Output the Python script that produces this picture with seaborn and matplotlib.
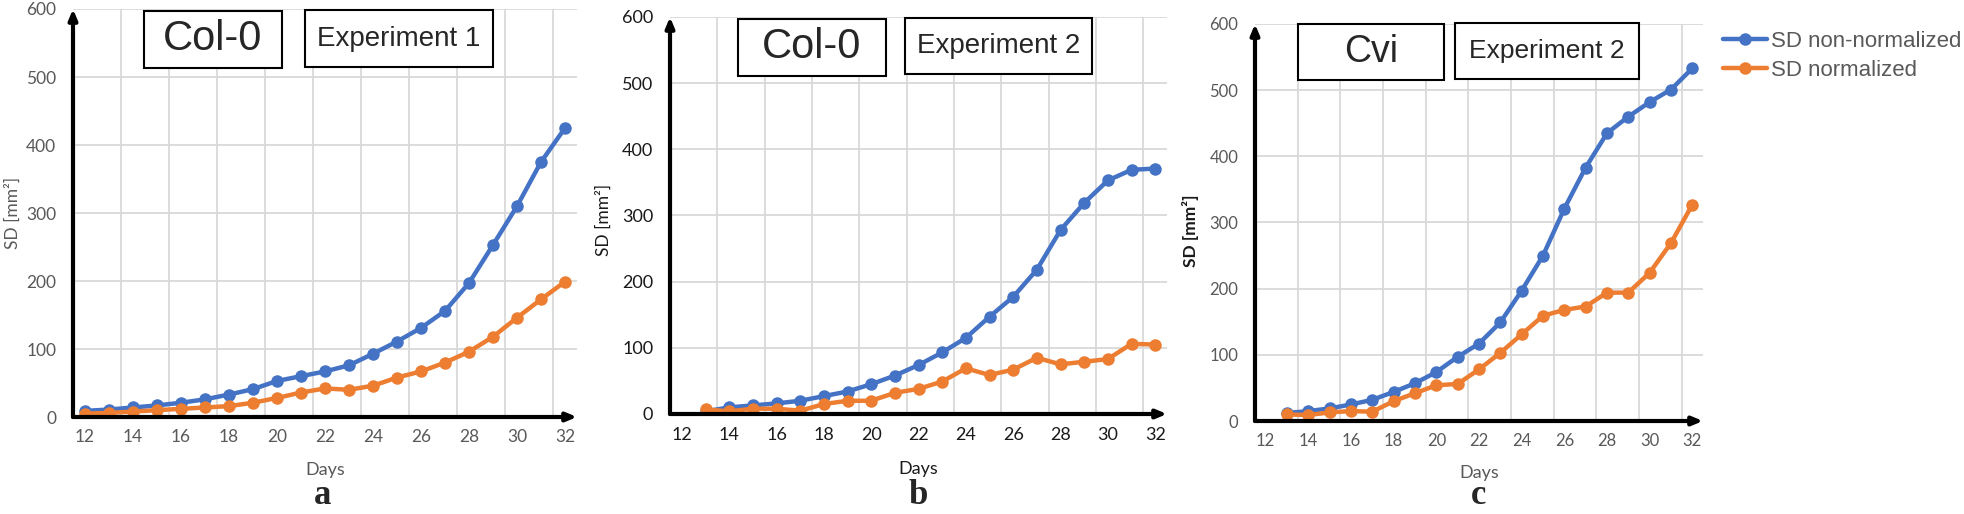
import matplotlib
matplotlib.use("Agg")
import matplotlib.pyplot as plt
from matplotlib.patches import Rectangle
import seaborn as sns
import pandas as pd

# values (SD in mm^2 per day)
days_a = [12, 13, 14, 15, 16, 17, 18, 19, 20, 21, 22, 23, 24, 25, 26, 27, 28, 29, 30, 31, 32]
raw_a = [9, 11, 14, 17, 21, 26, 33, 41, 53, 60, 67, 76, 93, 111, 131, 156, 197, 253, 310, 375, 425]
norm_a = [5, 6, 8, 10, 12, 14, 16, 21, 28, 36, 42, 40, 46, 58, 67, 80, 96, 118, 146, 173, 199]

days_b = [13, 14, 15, 16, 17, 18, 19, 20, 21, 22, 23, 24, 25, 26, 27, 28, 29, 30, 31, 32]
raw_b = [4, 10, 13, 16, 20, 27, 34, 45, 58, 74, 93, 115, 147, 177, 218, 278, 319, 353, 369, 371]
norm_b = [7, 4, 8, 8, 5, 15, 20, 20, 32, 38, 49, 69, 59, 67, 85, 75, 79, 83, 106, 105]

days_c = [13, 14, 15, 16, 17, 18, 19, 20, 21, 22, 23, 24, 25, 26, 27, 28, 29, 30, 31, 32]
raw_c = [12, 15, 19, 25, 32, 44, 57, 74, 97, 117, 149, 197, 250, 321, 383, 435, 460, 482, 501, 533]
norm_c = [10, 9, 13, 15, 14, 30, 42, 54, 56, 78, 103, 131, 159, 168, 173, 194, 194, 224, 269, 327]

series_names = ["SD non-normalized", "SD normalized"]
xticks = [12, 14, 16, 18, 20, 22, 24, 26, 28, 30, 32]
yticks = [0, 100, 200, 300, 400, 500, 600]
strains = ["Col-0", "Col-0", "Cvi"]
experiments = ["Experiment 1", "Experiment 2", "Experiment 2"]
letters = ["a", "b", "c"]

sns.set_style("white")
plt.rcParams["font.family"] = ["Lato", "DejaVu Sans"]

W, H = 1964, 514
fig = plt.figure(figsize=(W / 100, H / 100), dpi=100)
palette = {"SD non-normalized": "#4472C4", "SD normalized": "#ED7D31"}


def px_axes(left, right, y0, y600):
    return fig.add_axes([left / W, 1 - y0 / H, (right - left) / W, (y0 - y600) / H])


def px_box(x1, x2, y1, y2, text, size):
    fig.add_artist(Rectangle((x1 / W, 1 - y2 / H), (x2 - x1) / W, (y2 - y1) / H,
                             transform=fig.transFigure, facecolor="white",
                             edgecolor="black", linewidth=1.5, zorder=5))
    fig.text((x1 + x2) / 2 / W, 1 - (y1 + y2) / 2 / H, text, ha="center", va="center",
             fontsize=size, family="Liberation Sans", zorder=6)


panels = [
    dict(days=days_a, raw=raw_a, norm=norm_a, box=(73, 577, 417, 9),
         tick_col="#595959", tick_size=12.5, lab_col="#595959", lab_w="normal",
         ylab=(-0.119, 0.5), xlab=-0.13,
         boxes=[(144, 282, 11, 68, 30), (305, 493, 10, 67, 20)], letter=(323, 496)),
    dict(days=days_b, raw=raw_b, norm=norm_b, box=(670, 1167, 414, 17),
         tick_col="#1a1a1a", tick_size=13, lab_col="#1a1a1a", lab_w="normal",
         ylab=(-0.133, 0.49), xlab=-0.138,
         boxes=[(738, 886, 19, 76, 30), (905, 1092, 18, 74, 20)], letter=(918, 496)),
    dict(days=days_c, raw=raw_c, norm=norm_c, box=(1255, 1703, 421, 24),
         tick_col="#595959", tick_size=12, lab_col="#1a1a1a", lab_w="bold",
         ylab=(-0.145, 0.48), xlab=-0.131,
         boxes=[(1298, 1444, 24, 80, 27), (1455, 1639, 23, 79, 19)], letter=(1479, 496)),
]

axes = []
for i, p in enumerate(panels):
    ax = px_axes(*p["box"])
    axes.append(ax)
    df = pd.DataFrame({
        "Days": p["days"] * 2,
        "SD": p["raw"] + p["norm"],
        "series": [series_names[0]] * len(p["days"]) + [series_names[1]] * len(p["days"]),
    })
    sns.lineplot(data=df, x="Days", y="SD", hue="series", hue_order=series_names,
                 palette=palette, marker="o", markersize=9, markeredgewidth=0,
                 linewidth=3.2, legend=(i == 2), ax=ax, zorder=3)
    ax.set_xlim(11.5, 32.5)
    ax.set_ylim(0, 600)
    ax.set_xticks(xticks)
    ax.set_yticks(yticks)
    for gx in [13.5, 15.5, 17.5, 19.5, 21.5, 23.5, 25.5, 27.5, 29.5, 31.5]:
        ax.axvline(gx, color="#d9d9d9", lw=1.3, zorder=0)
    for gy in yticks[1:]:
        ax.axhline(gy, color="#d9d9d9", lw=1.3, zorder=0)
    for s in ax.spines.values():
        s.set_visible(False)
    ax.annotate("", xy=(0, 1.0), xytext=(0, 0), xycoords="axes fraction",
                arrowprops=dict(arrowstyle="-|>,head_length=0.6,head_width=0.25",
                                color="black", lw=3, shrinkA=0, shrinkB=0), zorder=4)
    ax.annotate("", xy=(1.0, 0), xytext=(0, 0), xycoords="axes fraction",
                arrowprops=dict(arrowstyle="-|>,head_length=0.6,head_width=0.25",
                                color="black", lw=3, shrinkA=0, shrinkB=0), zorder=4)
    ax.tick_params(length=0, colors=p["tick_col"], labelsize=p["tick_size"])
    ax.tick_params(axis="y", pad=12)
    ax.tick_params(axis="x", pad=9)
    ax.set_xlabel("Days", color=p["lab_col"] if i == 1 else "#595959", fontsize=13)
    ax.xaxis.set_label_coords(0.5, p["xlab"])
    ax.xaxis.label.set_va("center")
    ax.set_ylabel("SD [mm²]", color=p["lab_col"], fontsize=12.5, fontweight=p["lab_w"])
    ax.yaxis.set_label_coords(*p["ylab"])
    ax.yaxis.label.set_va("center")
    for (x1, x2, y1, y2, size), txt in zip(p["boxes"], [strains[i], experiments[i]]):
        px_box(x1, x2, y1, y2, txt, size)
    lx, ly = p["letter"]
    fig.text(lx / W, 1 - ly / H, letters[i], ha="center", va="center", fontsize=25,
             family="Liberation Serif", fontweight="bold")

handles, labels = axes[2].get_legend_handles_labels()
axes[2].get_legend().remove()
fig.legend(handles, labels, loc="upper left", bbox_to_anchor=(1714 / W, 1 - 22 / H),
           frameon=False, labelcolor="#595959", handlelength=2.0,
           handletextpad=0.15, labelspacing=0.35, borderaxespad=0,
           prop={"family": "Liberation Sans", "size": 16})

fig.savefig("out.png", dpi=100)
